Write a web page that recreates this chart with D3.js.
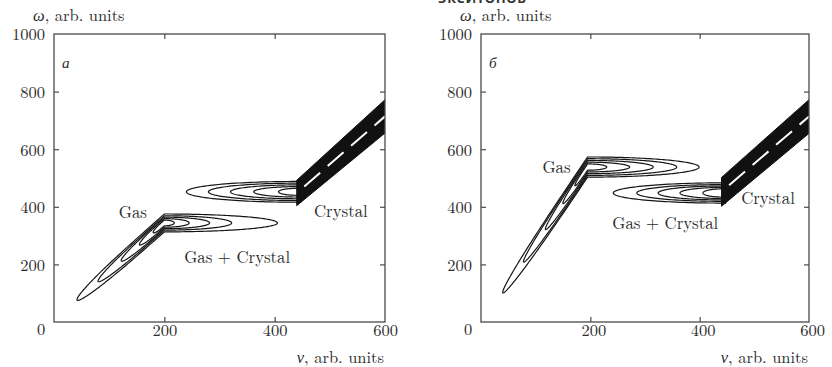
<!DOCTYPE html>
<html>
<head>
<meta charset="utf-8">
<script src="https://cdn.jsdelivr.net/npm/d3@7"></script>
<style>
  body { margin: 0; background: #fff; }
  svg { display: block; }
</style>
</head>
<body>
<svg id="chart" width="832" height="367"></svg>
<script>
// ---- axes ----
const nuDomain = [0, 600];
const omegaDomain = [0, 1000];
const nuTickLabels = [200, 400, 600];
const nuInnerTicks = [200, 400];
const omegaTickLabels = [200, 400, 600, 800, 1000];
const omegaInnerTicks = [200, 400, 600, 800];

// ---- panel а ----
const gasCornerA = [200, 344];          // bend of the gas ridge (ν, ω)
const gasDiagEndA = [42, 76];           // far end of the lower-left arm
const gasDiagTipsA = [42, 80, 122, 155, 180];
const gasHorizTipsA = [405, 322, 282, 245, 218];
const gasHalfWidthsA = [31, 25, 20, 15, 10];
const crystalEdgeA = 440;
const crystalCenterA = 452;
const crystalTipsA = [240, 280, 320, 362, 407];
const crystalHalfWidthsA = [36, 30, 24, 18, 12];
const bandUpperA = [[440, 492], [600, 772]];
const bandLowerA = [[440, 404], [600, 656]];

// ---- panel б ----
const gasCornerB = [195, 538];
const gasDiagEndB = [40, 101];
const gasDiagTipsB = [40, 78, 118, 150, 172];
const gasHorizTipsB = [399, 358, 315, 272, 230];
const gasHalfWidthsB = [35, 29, 23, 17, 11];
const crystalEdgeB = 440;
const crystalCenterB = 448;
const crystalTipsB = [242, 285, 324, 364, 406];
const crystalHalfWidthsB = [35, 29, 24, 19, 14];
const bandUpperB = [[440, 502], [600, 772]];
const bandLowerB = [[440, 402], [600, 655]];

const FONT = "'Latin Modern Roman', 'Liberation Serif', serif";
const INK = "#2b2b2b";

const svg = d3.select("#chart");
const line = d3.line();

// font size that gives a string the requested rendered width
function fitSize(str, width) {
  const t = svg.append("text").style("font-family", FONT).attr("font-size", 20).text(str);
  const w = t.node().getComputedTextLength();
  t.remove();
  return w > 0 ? 20 * width / w : 16;
}
const tickSize = fitSize("1000", 33);
const titleSize = fitSize(", arb. units", 80);
const labelSize = fitSize("Gas + Crystal", 106);

function intersect(p1, d1, p2, d2) {
  const cr = (a, b) => a[0] * b[1] - a[1] * b[0];
  const q = [p2[0] - p1[0], p2[1] - p1[1]];
  const den = cr(d1, d2);
  const t1 = cr(q, d2) / den, t2 = cr(q, d1) / den;
  return { p: [p1[0] + d1[0] * t1, p1[1] + d1[1] * t1], t1, t2 };
}

// half-width profile of a lobe arm: full width at the bend, rounded tip at s = L
const armShape = (k) => (f) => Math.sqrt(Math.max(0, 1 - Math.pow(f, k)));
const diagShape = armShape(3);
const horizShape = armShape(2);

// samples along an arm, denser towards the tip
function armSamples(n) {
  return d3.range(n + 1).map(i => 1 - Math.pow(1 - i / n, 2));
}

// one closed contour of the bent gas ridge: a tapered arm down the diagonal,
// a mitred bend, and a tapered arm along ν
function gasLoop(x, y, corner, diagEnd, diagTip, horizTip, halfW) {
  const C = [x(corner[0]), y(corner[1])];
  const E = [x(diagEnd[0]), y(diagEnd[1])];
  const len = Math.hypot(E[0] - C[0], E[1] - C[1]);
  const ud = [(E[0] - C[0]) / len, (E[1] - C[1]) / len];
  const uh = [1, 0];
  const nd = [-ud[1], ud[0]];
  const nh = [0, -1];
  const wv = y(0) - y(halfW);
  const wd = wv * Math.abs(ud[0]);
  const wh = wv;
  const Ld = (x(diagTip) - C[0]) / ud[0];
  const Lh = x(horizTip) - C[0];
  const fs = armSamples(60);
  const at = (u, n, L, w, shape, f, sgn) =>
    [C[0] + u[0] * L * f + sgn * n[0] * w * shape(f),
     C[1] + u[1] * L * f + sgn * n[1] * w * shape(f)];
  const pts = [];
  // outer side: diagonal tip -> bend -> horizontal tip
  fs.slice().reverse().forEach(f => pts.push(at(ud, nd, Ld, wd, diagShape, f, 1)));
  const M = intersect([C[0] + nd[0] * wd, C[1] + nd[1] * wd], ud,
                      [C[0] + nh[0] * wh, C[1] + nh[1] * wh], uh);
  pts.push(M.p);
  fs.forEach(f => pts.push(at(uh, nh, Lh, wh, horizShape, f, 1)));
  // inner side: horizontal tip -> bend -> diagonal tip
  const I = intersect([C[0] - nd[0] * wd, C[1] - nd[1] * wd], ud,
                      [C[0] - nh[0] * wh, C[1] - nh[1] * wh], uh);
  fs.slice().reverse().forEach(f => { if (Lh * f > I.t2) pts.push(at(uh, nh, Lh, wh, horizShape, f, -1)); });
  pts.push(I.p);
  fs.forEach(f => { if (Ld * f > I.t1) pts.push(at(ud, nd, Ld, wd, diagShape, f, -1)); });
  return line(pts) + "Z";
}

// one closed contour of the crystal-side lobe, opening into the band at ν = edge
function crystalLoop(x, y, edge, center, tip, halfW) {
  const cx = x(edge), cy = y(center);
  const L = cx - x(tip);
  const W = y(0) - y(halfW);
  const pts = [[cx + 4, cy - W]];
  const N = 80;
  for (let i = 0; i <= N; i++) {
    const phi = -Math.PI / 2 + (i / N) * Math.PI;
    pts.push([cx - L * Math.cos(phi), cy + W * Math.sin(phi)]);
  }
  pts.push([cx + 4, cy + W]);
  return line(pts) + "Z";
}

function label(g, size) {
  return g.append("text").style("font-family", FONT).attr("font-size", size).attr("fill", INK);
}

function drawPanel(p) {
  const x = d3.scaleLinear().domain(nuDomain).range([p.left, p.right]);
  const y = d3.scaleLinear().domain(omegaDomain).range([322, 34]);
  const g = svg.append("g");

  const clipId = "clip-" + p.id;
  svg.append("clipPath").attr("id", clipId)
    .append("rect").attr("x", x(0)).attr("y", y(1000))
    .attr("width", x(600) - x(0)).attr("height", y(0) - y(1000));

  const plot = g.append("g").attr("clip-path", `url(#${clipId})`);

  // gas contours
  plot.append("g").selectAll("path")
    .data(p.gasDiagTips.map((d, i) => ({ d, h: p.gasHorizTips[i], w: p.gasHalfWidths[i] })))
    .join("path")
    .attr("d", c => gasLoop(x, y, p.gasCorner, p.gasDiagEnd, c.d, c.h, c.w))
    .attr("fill", "none").attr("stroke", "#151515").attr("stroke-width", 1.2);

  // crystal-side contours
  plot.append("g").selectAll("path")
    .data(p.crystalTips.map((t, i) => ({ t, w: p.crystalHalfWidths[i] })))
    .join("path")
    .attr("d", c => crystalLoop(x, y, p.crystalEdge, p.crystalCenter, c.t, c.w))
    .attr("fill", "none").attr("stroke", "#151515").attr("stroke-width", 1.2);

  // dense crystal band
  const band = [p.bandUpper[0], p.bandUpper[1], p.bandLower[1], p.bandLower[0]];
  plot.append("path")
    .attr("d", line(band.map(d => [x(d[0]), y(d[1])])) + "Z")
    .attr("fill", "#111").attr("stroke", "#111").attr("stroke-width", 1);

  const mid0 = [(p.bandUpper[0][0] + p.bandLower[0][0]) / 2, (p.bandUpper[0][1] + p.bandLower[0][1]) / 2];
  const mid1 = [(p.bandUpper[1][0] + p.bandLower[1][0]) / 2, (p.bandUpper[1][1] + p.bandLower[1][1]) / 2];
  plot.append("line")
    .attr("x1", x(mid0[0])).attr("y1", y(mid0[1]))
    .attr("x2", x(mid1[0])).attr("y2", y(mid1[1]))
    .attr("stroke", "#fff").attr("stroke-width", 2)
    .attr("stroke-dasharray", "21,10").attr("stroke-dashoffset", 21);

  // frame and inward ticks
  g.append("rect").attr("x", x(0)).attr("y", y(1000))
    .attr("width", x(600) - x(0)).attr("height", y(0) - y(1000))
    .attr("fill", "none").attr("stroke", "#4a4a4a").attr("stroke-width", 1.3);

  const styleAxis = sel => {
    sel.select(".domain").remove();
    sel.selectAll(".tick line").attr("stroke", "#4a4a4a").attr("stroke-width", 1.2);
    sel.selectAll(".tick text").style("font-family", FONT)
      .attr("font-size", tickSize).attr("fill", INK);
  };
  g.append("g").attr("transform", `translate(0,${y(0)})`)
    .call(d3.axisBottom(x).tickValues(nuTickLabels).tickSize(-5).tickPadding(2).tickFormat(d3.format("d")))
    .call(styleAxis)
    .call(s => s.selectAll(".tick").filter(d => d === 600).select("line").remove())
    .call(s => s.selectAll(".tick text").attr("dx", p.xLabelShift));
  g.append("g").attr("transform", `translate(0,${y(1000)})`)
    .call(d3.axisTop(x).tickValues(nuInnerTicks).tickSize(-5).tickFormat(""))
    .call(styleAxis);
  g.append("g").attr("transform", `translate(${x(0)},0)`)
    .call(d3.axisLeft(y).tickValues(omegaTickLabels).tickSize(-5).tickPadding(9).tickFormat(d3.format("d")))
    .call(styleAxis)
    .call(s => s.selectAll(".tick").filter(d => d === 1000).select("line").remove())
    .call(s => s.selectAll(".tick text").attr("dy", "0.36em"));
  g.append("g").attr("transform", `translate(${x(600)},0)`)
    .call(d3.axisRight(y).tickValues(omegaInnerTicks).tickSize(-5).tickFormat(""))
    .call(styleAxis);

  // shared origin label
  label(g, tickSize).attr("x", x(0) - 13).attr("y", 335).attr("text-anchor", "middle").text("0");

  // axis titles
  const yt = label(g, titleSize).attr("x", x(0) - 21).attr("y", 20.5);
  yt.append("tspan").attr("font-style", "italic").text("ω");
  yt.append("tspan").text(", arb. units");
  const xt = label(g, titleSize).attr("x", x(600) - 1).attr("y", 363).attr("text-anchor", "end");
  xt.append("tspan").attr("font-style", "italic").text("ν");
  xt.append("tspan").text(", arb. units");

  // panel letter
  label(g, tickSize * 0.92).attr("x", x(0) + 8).attr("y", 68)
    .attr("font-style", "italic").text(p.letter);

  // region labels
  p.labels.forEach(l => {
    label(g, labelSize).attr("x", x(l.nu)).attr("y", y(l.omega))
      .attr("text-anchor", "middle").text(l.text);
  });
}

drawPanel({
  id: "a", left: 54, right: 385, letter: "а", xLabelShift: 0,
  gasCorner: gasCornerA, gasDiagEnd: gasDiagEndA, gasDiagTips: gasDiagTipsA,
  gasHorizTips: gasHorizTipsA, gasHalfWidths: gasHalfWidthsA,
  crystalEdge: crystalEdgeA, crystalCenter: crystalCenterA,
  crystalTips: crystalTipsA, crystalHalfWidths: crystalHalfWidthsA,
  bandUpper: bandUpperA, bandLower: bandLowerA,
  labels: [
    { text: "Gas", nu: 143, omega: 361 },
    { text: "Gas + Crystal", nu: 332, omega: 205 },
    { text: "Crystal", nu: 520, omega: 365 }
  ]
});

drawPanel({
  id: "b", left: 481, right: 809, letter: "б", xLabelShift: 3,
  gasCorner: gasCornerB, gasDiagEnd: gasDiagEndB, gasDiagTips: gasDiagTipsB,
  gasHorizTips: gasHorizTipsB, gasHalfWidths: gasHalfWidthsB,
  crystalEdge: crystalEdgeB, crystalCenter: crystalCenterB,
  crystalTips: crystalTipsB, crystalHalfWidths: crystalHalfWidthsB,
  bandUpper: bandUpperB, bandLower: bandLowerB,
  labels: [
    { text: "Gas", nu: 138, omega: 517 },
    { text: "Gas + Crystal", nu: 337, omega: 323 },
    { text: "Crystal", nu: 525, omega: 410 }
  ]
});

// running header at the top edge of the page
svg.append("text").attr("x", 438).attr("y", 3)
  .style("font-family", "'Open Sans', sans-serif").attr("font-weight", 700)
  .attr("font-size", 13).attr("fill", "#333").attr("letter-spacing", 0.6)
  .text("ЭКСИТОНОВ");
</script>
</body>
</html>
